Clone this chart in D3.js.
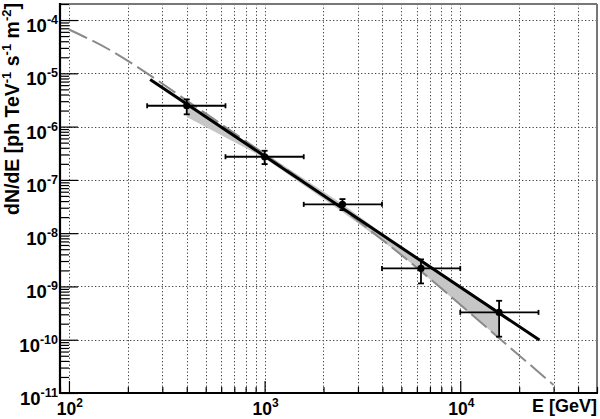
<!DOCTYPE html>
<html>
<head>
<meta charset="utf-8">
<script src="https://cdn.jsdelivr.net/npm/d3@7"></script>
<style>
  html, body { margin: 0; padding: 0; background: #fff; }
  svg { display: block; }
  text { font-family: "Liberation Sans", Arial, Helvetica, sans-serif; font-weight: bold; fill: #000; }
</style>
</head>
<body>
<svg id="chart" width="600" height="419"></svg>
<script>
// ---------------- data ----------------
const pointE        = [400, 1000, 2500, 6300, 15800];          // GeV
const pointFlux     = [2.46e-6, 2.72e-7, 3.47e-8, 2.18e-9, 3.26e-10];
const pointELow     = [251, 631, 1585, 3981, 10000];
const pointEHigh    = [631, 1585, 3981, 10000, 25119];
const pointFluxHigh = [3.24e-6, 3.52e-7, 4.36e-8, 3.22e-9, 5.38e-10];
const pointFluxLow  = [1.70e-6, 1.98e-7, 2.71e-8, 1.14e-9, 1.14e-10];

const fitE    = [260, 25400];
const fitFlux = [7.64e-6, 9.84e-11];

const modelE    = [100, 162, 254, 400, 1000, 2500, 5000, 15800, 30000];
const modelFlux = [6.64e-5, 2.74e-5, 9.69e-6, 3.08e-6, 3.05e-7, 2.83e-8, 3.88e-9, 1.07e-10, 1.41e-11];

const bandUpperE    = [400, 1000, 2500, 6300, 15800];
const bandUpperFlux = [2.65e-6, 3.19e-7, 3.52e-8, 2.86e-9, 3.30e-10];
const bandLowerE    = [400, 1000, 2500, 5000, 15800];
const bandLowerFlux = [1.51e-6, 2.56e-7, 2.49e-8, 3.88e-9, 1.07e-10];

const xMajorTicks = [1e2, 1e3, 1e4];
const xMajorExp   = ["2", "3", "4"];
const yMajorTicks = [1e-4, 1e-5, 1e-6, 1e-7, 1e-8, 1e-9, 1e-10, 1e-11];
const yMajorExp   = ["-4", "-5", "-6", "-7", "-8", "-9", "-10", "-11"];

// ---------------- layout ----------------
const L = 60, R = 597, T = 4, B = 393;
const svg = d3.select("#chart");

const x = d3.scaleLog().domain([90, 50000]).range([L, R]);
const y = d3.scaleLog().domain([1e-11, 2e-4]).range([B, T]);

const minorOf = (lo, hi, nFrom, nTo) => {
  const out = [];
  for (let n = nFrom; n <= nTo; n++)
    for (let k = 2; k <= 9; k++) {
      const v = k * Math.pow(10, n);
      if (v >= lo * 0.999 && v <= hi * 1.001) out.push(v);
    }
  return out;
};
const xMinor = minorOf(90, 50000, 1, 4);
const yMinor = minorOf(1e-11, 2e-4, -11, -4);

// ---------------- grid ----------------
const grid = svg.append("g").attr("stroke", "#444").attr("stroke-width", 1)
  .attr("stroke-dasharray", "1.3,2.2").attr("fill", "none");
const xGridVals = xMajorTicks.concat(xMinor).filter(v => x(v) > L + 2 && x(v) < R - 2);
grid.selectAll("line.vx").data(xGridVals).join("line")
  .attr("x1", d => Math.round(x(d)) + 0.5).attr("x2", d => Math.round(x(d)) + 0.5)
  .attr("y1", T).attr("y2", B);
const yGridVals = yMajorTicks.filter(v => y(v) < B - 2 && y(v) > T + 2);
grid.selectAll("line.hy").data(yGridVals).join("line")
  .attr("y1", d => Math.round(y(d)) + 0.5).attr("y2", d => Math.round(y(d)) + 0.5)
  .attr("x1", L).attr("x2", R);

// ---------------- band ----------------
const upperPts = bandUpperE.map((e, i) => [x(e), y(bandUpperFlux[i])]);
const lowerPts = bandLowerE.map((e, i) => [x(e), y(bandLowerFlux[i])]).reverse();
svg.append("path")
  .attr("d", d3.line()(upperPts.concat(lowerPts)) + "Z")
  .attr("fill", "#c6c6c6").attr("stroke", "none");

// ---------------- model (dashed) ----------------
svg.append("path")
  .datum(modelE.map((e, i) => [x(e), y(modelFlux[i])]))
  .attr("d", d3.line().curve(d3.curveMonotoneX))
  .attr("fill", "none").attr("stroke", "#8a8a8a").attr("stroke-width", 2)
  .attr("stroke-dasharray", "20,6");

// ---------------- fit line ----------------
svg.append("path")
  .datum(fitE.map((e, i) => [x(e), y(fitFlux[i])]))
  .attr("d", d3.line())
  .attr("fill", "none").attr("stroke", "#000").attr("stroke-width", 3);

// ---------------- data points ----------------
const pts = pointE.map((e, i) => ({
  e, f: pointFlux[i], el: pointELow[i], eh: pointEHigh[i],
  fh: pointFluxHigh[i], fl: pointFluxLow[i]
}));
const pg = svg.append("g").attr("stroke", "#000").attr("stroke-width", 1.8);
pg.selectAll("line.xb").data(pts).join("line")
  .attr("x1", d => x(d.el)).attr("x2", d => x(d.eh))
  .attr("y1", d => y(d.f)).attr("y2", d => y(d.f));
pg.selectAll("line.xc1").data(pts).join("line")
  .attr("x1", d => x(d.el)).attr("x2", d => x(d.el))
  .attr("y1", d => y(d.f) - 2.5).attr("y2", d => y(d.f) + 2.5);
pg.selectAll("line.xc2").data(pts).join("line")
  .attr("x1", d => x(d.eh)).attr("x2", d => x(d.eh))
  .attr("y1", d => y(d.f) - 2.5).attr("y2", d => y(d.f) + 2.5);
pg.selectAll("line.yb").data(pts).join("line")
  .attr("x1", d => x(d.e)).attr("x2", d => x(d.e))
  .attr("y1", d => y(d.fh)).attr("y2", d => y(d.fl));
pg.selectAll("line.yc1").data(pts).join("line")
  .attr("x1", d => x(d.e) - 3).attr("x2", d => x(d.e) + 3)
  .attr("y1", d => y(d.fh)).attr("y2", d => y(d.fh));
pg.selectAll("line.yc2").data(pts).join("line")
  .attr("x1", d => x(d.e) - 3).attr("x2", d => x(d.e) + 3)
  .attr("y1", d => y(d.fl)).attr("y2", d => y(d.fl));
svg.append("g").selectAll("circle").data(pts).join("circle")
  .attr("cx", d => x(d.e)).attr("cy", d => y(d.f)).attr("r", 3.6).attr("fill", "#000");

// ---------------- frame ----------------
svg.append("line").attr("x1", L).attr("x2", R).attr("y1", T).attr("y2", T)
  .attr("stroke", "#777").attr("stroke-width", 2);
svg.append("line").attr("x1", R).attr("x2", R).attr("y1", T).attr("y2", B)
  .attr("stroke", "#777").attr("stroke-width", 2);

// ---------------- axes (ticks inward) ----------------
const styleAxis = g => { g.select(".domain").remove(); g.selectAll("text").remove();
  g.selectAll("line").attr("stroke", "#000").attr("stroke-width", 1.2); };
svg.append("g").attr("transform", `translate(0,${B})`)
  .call(d3.axisBottom(x).tickValues(xMajorTicks).tickSize(-12)).call(styleAxis);
svg.append("g").attr("transform", `translate(0,${B})`)
  .call(d3.axisBottom(x).tickValues(xMinor).tickSize(-6)).call(styleAxis);
svg.append("g").attr("transform", `translate(${L},0)`)
  .call(d3.axisLeft(y).tickValues(yMajorTicks).tickSize(-18)).call(styleAxis);
svg.append("g").attr("transform", `translate(${L},0)`)
  .call(d3.axisLeft(y).tickValues(yMinor).tickSize(-9)).call(styleAxis);

svg.append("line").attr("x1", L).attr("x2", R + 1).attr("y1", B).attr("y2", B)
  .attr("stroke", "#000").attr("stroke-width", 2.2);
svg.append("line").attr("x1", L).attr("x2", L).attr("y1", T - 1).attr("y2", B + 1)
  .attr("stroke", "#000").attr("stroke-width", 2.2);

// ---------------- tick labels ----------------
xMajorTicks.forEach((v, i) => {
  const t = svg.append("text").attr("x", x(v) + 1).attr("y", 415)
    .attr("text-anchor", "middle").attr("font-size", 17.5).text("10");
  t.append("tspan").attr("font-size", 12).attr("dy", -8).text(xMajorExp[i]);
});
yMajorTicks.forEach((v, i) => {
  const t = svg.append("text").attr("x", 58).attr("y", y(v) + 12)
    .attr("text-anchor", "end").attr("font-size", 18.5).text("10");
  t.append("tspan").attr("font-size", 12.5).attr("dy", -8).text(yMajorExp[i]);
});

// ---------------- axis titles ----------------
svg.append("text").attr("x", 597).attr("y", 412).attr("text-anchor", "end")
  .attr("font-size", 18).text("E [GeV]");

const yt = svg.append("text").attr("transform", "translate(19,3) rotate(-90)")
  .attr("text-anchor", "end").attr("font-size", 19.5);
yt.append("tspan").text("dN/dE [ph TeV");
yt.append("tspan").attr("font-size", 13).attr("dy", -8).text("-1");
yt.append("tspan").attr("dy", 8).text(" s");
yt.append("tspan").attr("font-size", 13).attr("dy", -8).text("-1");
yt.append("tspan").attr("dy", 8).text(" m");
yt.append("tspan").attr("font-size", 13).attr("dy", -8).text("-2");
yt.append("tspan").attr("dy", 8).text("]");
</script>
</body>
</html>
